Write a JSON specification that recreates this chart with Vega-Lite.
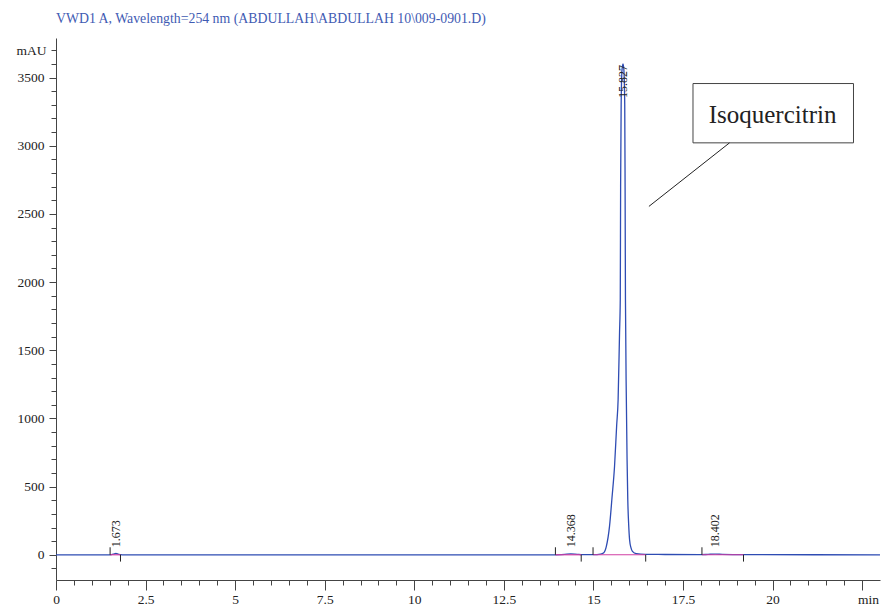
{
  "$schema": "https://vega.github.io/schema/vega-lite/v6.json",
  "width": 824,
  "height": 542,
  "autosize": {"type": "none"},
  "padding": {"left": 56, "top": 38, "right": 4, "bottom": 28},
  "background": "white",
  "title": {
    "text": "VWD1 A, Wavelength=254 nm (ABDULLAH\\ABDULLAH 10\\009-0901.D)",
    "anchor": "start",
    "frame": "group",
    "font": "Liberation Serif",
    "fontSize": 13.8,
    "fontWeight": "normal",
    "color": "#3f5bb3",
    "offset": 12
  },
  "config": {
    "view": {"stroke": null},
    "axis": {
      "grid": false,
      "title": null,
      "domainColor": "#444444",
      "tickColor": "#444444",
      "labelFont": "Liberation Serif",
      "labelFontSize": 13.5,
      "labelColor": "#222222",
      "labelOverlap": false,
      "labelFlush": false,
      "labelBound": false
    }
  },
  "datasets": {
    "trace": [
      {"t": 0, "v": 0}, {"t": 1.5, "v": 0}, {"t": 1.6, "v": 4}, {"t": 1.673, "v": 10},
      {"t": 1.75, "v": 3}, {"t": 1.85, "v": 0}, {"t": 13.9, "v": 0}, {"t": 14.2, "v": 3},
      {"t": 14.368, "v": 6}, {"t": 14.55, "v": 3}, {"t": 14.7, "v": 1}, {"t": 15.0, "v": 1},
      {"t": 15.2, "v": 5}, {"t": 15.29, "v": 15}, {"t": 15.36, "v": 60}, {"t": 15.45, "v": 208},
      {"t": 15.52, "v": 420}, {"t": 15.59, "v": 648}, {"t": 15.65, "v": 950}, {"t": 15.69, "v": 1137},
      {"t": 15.73, "v": 1629}, {"t": 15.75, "v": 1870}, {"t": 15.76, "v": 2700}, {"t": 15.775, "v": 3300},
      {"t": 15.8, "v": 3560}, {"t": 15.827, "v": 3600}, {"t": 15.85, "v": 3560}, {"t": 15.875, "v": 3300},
      {"t": 15.885, "v": 2700}, {"t": 15.895, "v": 1870}, {"t": 15.92, "v": 1137}, {"t": 15.94, "v": 700},
      {"t": 15.96, "v": 403}, {"t": 15.985, "v": 220}, {"t": 16.01, "v": 110}, {"t": 16.05, "v": 50},
      {"t": 16.09, "v": 25}, {"t": 16.2, "v": 8}, {"t": 16.45, "v": 3}, {"t": 17.0, "v": 2},
      {"t": 18.0, "v": 1}, {"t": 18.2, "v": 3}, {"t": 18.402, "v": 5}, {"t": 18.6, "v": 3},
      {"t": 19.2, "v": 1}, {"t": 23, "v": 0}
    ],
    "baselines": [
      {"t": 1.51, "t2": 1.8, "v": 0},
      {"t": 13.94, "t2": 14.66, "v": 0},
      {"t": 14.99, "t2": 16.46, "v": 0},
      {"t": 18.03, "t2": 19.19, "v": 0}
    ],
    "marks": [
      {"t": 1.51, "v": 0, "v2": 55}, {"t": 1.8, "v": 0, "v2": -50},
      {"t": 13.94, "v": 0, "v2": 55}, {"t": 14.66, "v": 0, "v2": -50},
      {"t": 14.99, "v": 0, "v2": 55}, {"t": 16.46, "v": 0, "v2": -50},
      {"t": 18.03, "v": 0, "v2": 55}, {"t": 19.19, "v": 0, "v2": -50}
    ],
    "peaks": [
      {"t": 1.673, "v": 55, "label": "1.673"},
      {"t": 14.368, "v": 55, "label": "14.368"},
      {"t": 15.827, "v": 3350, "label": "15.827"},
      {"t": 18.402, "v": 55, "label": "18.402"}
    ],
    "box": [{"t": 17.78, "t2": 22.26, "v": 3456, "v2": 3021, "label": "Isoquercitrin", "tc": 20.0, "vc": 3228}],
    "pointer": [{"t": 18.8, "v": 3021, "t2": 16.55, "v2": 2555}]
  },
  "encoding": {
    "x": {
      "field": "t",
      "type": "quantitative",
      "scale": {"domain": [0, 23], "nice": false, "zero": false},
      "axis": {
        "values": [0,0.5,1,1.5,2,2.5,3,3.5,4,4.5,5,5.5,6,6.5,7,7.5,8,8.5,9,9.5,10,10.5,11,11.5,12,12.5,13,13.5,14,14.5,15,15.5,16,16.5,17,17.5,18,18.5,19,19.5,20,20.5,21,21.5,22,22.5],
        "labelExpr": "datum.value === 22.5 ? 'min' : (datum.value % 2.5 === 0 ? '' + datum.value : '')",
        "tickSize": {"condition": {"test": "datum.value % 2.5 === 0", "value": 10}, "value": 5},
        "labelOffset": {"condition": {"test": "datum.value === 22.5", "value": 6}, "value": 0},
        "labelPadding": 2
      }
    },
    "y": {
      "field": "v",
      "type": "quantitative",
      "scale": {"domain": [-185, 3790], "nice": false, "zero": false},
      "axis": {
        "values": [-100,0,100,200,300,400,500,600,700,800,900,1000,1100,1200,1300,1400,1500,1600,1700,1800,1900,2000,2100,2200,2300,2400,2500,2600,2700,2800,2900,3000,3100,3200,3300,3400,3500,3600,3700],
        "labelExpr": "datum.value === 3700 ? 'mAU' : (datum.value % 500 === 0 ? '' + datum.value : '')",
        "tickSize": {"condition": {"test": "datum.value % 500 === 0", "value": 7}, "value": 5},
        "labelPadding": 5
      }
    }
  },
  "layer": [
    {
      "data": {"name": "trace"},
      "mark": {"type": "line", "color": "#2e4cb3", "strokeWidth": 1.3, "interpolate": "monotone"}
    },
    {
      "data": {"name": "baselines"},
      "mark": {"type": "rule", "color": "#d13fa3", "strokeWidth": 1.2},
      "encoding": {"x2": {"field": "t2"}}
    },
    {
      "data": {"name": "marks"},
      "mark": {"type": "rule", "color": "#222222", "strokeWidth": 1},
      "encoding": {"y2": {"field": "v2"}}
    },
    {
      "data": {"name": "peaks"},
      "mark": {"type": "text", "angle": 270, "align": "left", "baseline": "middle", "font": "Liberation Serif", "fontSize": 12, "color": "#222222"},
      "encoding": {"text": {"field": "label"}}
    },
    {
      "data": {"name": "box"},
      "mark": {"type": "rect", "fill": "white", "stroke": "#444444", "strokeWidth": 1},
      "encoding": {"x2": {"field": "t2"}, "y2": {"field": "v2"}}
    },
    {
      "data": {"name": "box"},
      "mark": {"type": "text", "font": "Liberation Serif", "fontSize": 25, "color": "#222222", "align": "center", "baseline": "middle"},
      "encoding": {"x": {"field": "tc", "type": "quantitative"}, "y": {"field": "vc", "type": "quantitative"}, "text": {"field": "label"}}
    },
    {
      "data": {"name": "pointer"},
      "mark": {"type": "rule", "color": "#222222", "strokeWidth": 1},
      "encoding": {"x2": {"field": "t2"}, "y2": {"field": "v2"}}
    }
  ]
}
